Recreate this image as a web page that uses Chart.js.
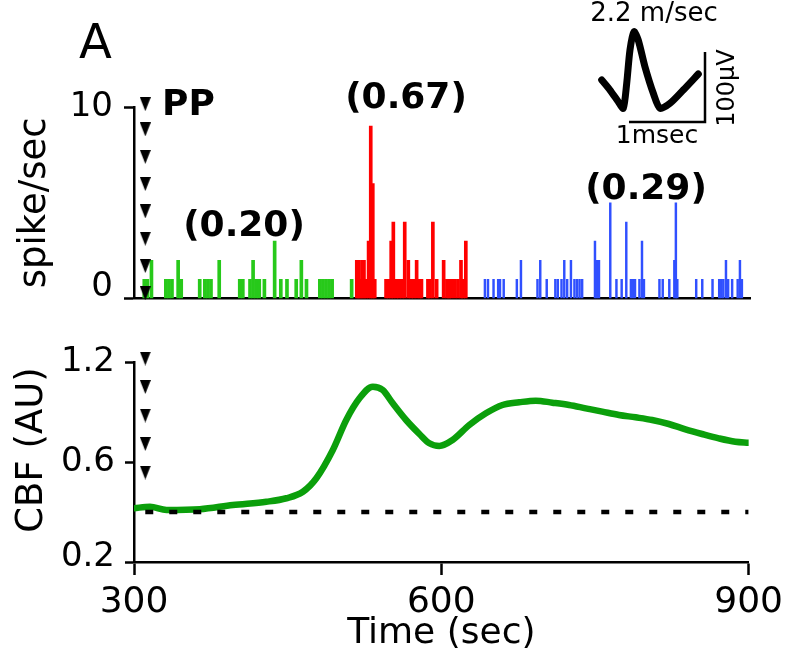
<!DOCTYPE html>
<html><head><meta charset="utf-8">
<script src="https://cdn.jsdelivr.net/npm/chart.js@4.4.1/dist/chart.umd.min.js"></script>
<style>
html,body{margin:0;padding:0;background:#fff;}
#wrap{position:relative;width:789px;height:657px;overflow:hidden;background:#fff;}
canvas{position:absolute;}
</style></head><body>
<div id="wrap">
<canvas id="cbf" width="789" height="345" style="left:0;top:312px"></canvas>
<canvas id="spk" width="789" height="330" style="left:0;top:0"></canvas>
<canvas id="ins" width="180" height="150" style="left:570px;top:0"></canvas>
</div>
<script>
// ---------------- data ----------------
const timeTicks = [300, 600, 900];
const spikeTicks = [0, 10];
const cbfTicks = [0.2, 0.6, 1.2];

const greenTimes = [310, 313, 317, 331, 334, 337, 343, 346, 364, 369, 372, 375, 383, 403, 406, 413, 416, 419, 422, 427, 437, 443, 449, 458, 463, 468, 481, 484, 487, 490, 493, 512];
const greenRates = [1, 1, 2, 1, 1, 1, 2, 1, 1, 1, 1, 1, 2, 1, 1, 1, 2, 1, 1, 1, 3, 1, 1, 1, 2, 1, 1, 1, 1, 1, 1, 1];

const redTimes = [517, 518.5, 520.3, 522, 524, 526, 528.5, 530.6, 532.6, 534.5, 545.5, 548, 550.5, 552.6, 555.5, 558, 560.8, 563.7, 567.2, 570, 572.3, 575.3, 578.3, 580, 586.3, 588, 591.1, 594.8, 601.6, 604.8, 607, 609, 612.3, 615.5, 618.5, 620.5, 623.2];
const redRates = [2, 2, 1, 2, 2, 1, 3, 9, 6, 1, 1, 1, 3, 4, 1, 1, 1, 4, 2, 1, 1, 2, 1, 1, 1, 1, 4, 1, 2, 1, 1, 1, 1, 1, 2, 1, 3];

const blueTimes = [641.8, 644.8, 650.2, 654.7, 656.5, 660.1, 672.9, 676.9, 693, 695.7, 702, 710.4, 712.8, 716.4, 719.1, 721.9, 725.6, 729, 731.5, 734, 736.5, 749, 750.8, 752.9, 763.9, 769.9, 775, 779.5, 784, 786, 788, 792.3, 794.8, 796.7, 811.8, 815, 821.4, 826.3, 827.8, 829.2, 847.6, 853.5, 863.5, 870, 872, 874, 876.6, 878.7, 882.6, 888, 890.2, 892.1];
const blueRates = [1, 1, 1, 1, 1, 1, 1, 2, 1, 2, 1, 1, 1, 1, 2, 1, 2, 1, 1, 1, 1, 3, 2, 2, 5, 1, 1, 4, 1, 1, 1, 1, 3, 1, 1, 1, 1, 2, 5, 1, 1, 1, 1, 1, 1, 1, 2, 1, 1, 1, 2, 1];

const rateLabels = ['(0.20)', '(0.67)', '(0.29)'];

const cbfTimes = [300, 315.6, 331.8, 364.3, 396.4, 429.2, 448.7, 464.9, 478, 494.1, 507.2, 520.1, 533.1, 542.8, 552.6, 565.6, 578.6, 588.3, 598, 611, 627.3, 643.5, 659.7, 676, 692.2, 708.4, 724.7, 740.9, 757.1, 773.4, 789.6, 805.8, 822.1, 838.3, 854.5, 870.8, 887, 900];
const cbfValues = [0.415, 0.421, 0.408, 0.411, 0.428, 0.441, 0.455, 0.481, 0.535, 0.672, 0.852, 0.982, 1.052, 1.032, 0.952, 0.852, 0.768, 0.712, 0.696, 0.732, 0.822, 0.892, 0.942, 0.958, 0.968, 0.956, 0.942, 0.922, 0.902, 0.882, 0.868, 0.852, 0.828, 0.796, 0.768, 0.742, 0.722, 0.716];

const baselineTimes = [311, 900];
const baselineValues = [0.4, 0.4];

const ppTime = 311;
const ppSpikeLevels = [10.15, 8.83, 7.4, 5.98, 4.55, 3.13, 1.7, 0.28];
const ppCbfLevels = [1.392, 1.221, 1.05, 0.879, 0.708, 0.558];

const waveTimes = [-0.359, -0.25, -0.141, -0.075, -0.03, 0.013, 0.066, 0.122, 0.21, 0.32, 0.408, 0.54, 0.714, 0.912];
const waveVolts = [60, 45.7, 29, 19.6, 55.3, 102.9, 129, 117, 79, 41, 19.6, 26.7, 45.7, 68.6];
const scaleBarTimes = [0, 1, 1];
const scaleBarVolts = [0, 0, 100];

// ---------------- styles ----------------
const FONT = 'DejaVu Sans';
const GREEN = '#27c91a';
const RED = '#ff0000';
const BLUE = '#3050ff';
const CBF_GREEN = '#0b9f0b';

const xy = (xs, ys) => xs.map((x, i) => ({x: x, y: ys[i]}));

// piecewise linear scale: tick values evenly spaced along the axis
class PiecewiseScale extends Chart.LinearScale {
  getPixelForValue(value) {
    if (value === null || value === undefined || isNaN(value)) return NaN;
    const b = cbfTicks, n = b.length - 1;
    let i = 0;
    while (i < n - 1 && value > b[i + 1]) i++;
    const dec = (i + (value - b[i]) / (b[i + 1] - b[i])) / n;
    return this.getPixelForDecimal(dec);
  }
  getValueForPixel(pixel) {
    const b = cbfTicks, n = b.length - 1;
    const d = this.getDecimalForPixel(pixel) * n;
    const i = Math.min(n - 1, Math.max(0, Math.floor(d)));
    return b[i] + (d - i) * (b[i + 1] - b[i]);
  }
}
PiecewiseScale.id = 'piecewise';
PiecewiseScale.defaults = Chart.LinearScale.defaults;
Chart.register(PiecewiseScale);

// downward arrowhead marker
const tri = document.createElement('canvas');
tri.width = 11; tri.height = 14;
(function(){ const c = tri.getContext('2d'); c.fillStyle = '#000'; c.beginPath(); c.moveTo(0, 0); c.lineTo(11, 0); c.lineTo(5.5, 14); c.closePath(); c.fill(); })();

const nudge = (axis, value, dy) => ({
  id: 'nudge_' + axis,
  beforeDraw(chart) {
    try {
      const s = chart.scales[axis];
      const items = s.getLabelItems(chart.chartArea);
      s.ticks.forEach((t, i) => { if (t.value === value && items[i]) items[i].options.translation[1] += dy; });
    } catch (e) {}
  }
});

const tickFont = (size) => ({family: FONT, size: size});

// ---------------- top panel: spike histogram ----------------
const topText = {
  id: 'topText',
  afterDraw(chart) {
    const ctx = chart.ctx, x = chart.scales.x, y = chart.scales.y;
    ctx.save();
    ctx.fillStyle = '#000';
    ctx.textAlign = 'left'; ctx.textBaseline = 'alphabetic';
    ctx.font = '48px "' + FONT + '"';
    ctx.fillText('A', 79, 58);
    ctx.font = 'bold 36px "' + FONT + '"';
    ctx.fillText('PP', 162, 115);
    ctx.textAlign = 'center'; ctx.textBaseline = 'middle';
    ctx.fillText(rateLabels[0], 244, 227);
    ctx.fillText(rateLabels[1], 406, 99);
    ctx.fillText(rateLabels[2], 646, 190);
    ctx.restore();
  }
};

new Chart(document.getElementById('spk'), {
  type: 'bar',
  data: {
    datasets: [
      {type: 'scatter', data: ppSpikeLevels.map(v => ({x: ppTime, y: v})), pointStyle: tri, pointRadius: 6, clip: false, order: 0},
      {data: xy(greenTimes, greenRates), backgroundColor: GREEN, barThickness: 3, stack: 's', order: 1},
      {data: xy(redTimes, redRates), backgroundColor: RED, barThickness: 3, stack: 's', order: 1},
      {data: xy(blueTimes, blueRates), backgroundColor: BLUE, barThickness: 1.8, stack: 's', order: 1}
    ]
  },
  options: {
    responsive: false, animation: false, devicePixelRatio: 1,
    layout: {padding: {left: 0, right: 39, top: 107, bottom: 0}},
    plugins: {legend: {display: false}, tooltip: {enabled: false}},
    scales: {
      x: {type: 'linear', min: 300, max: 900, offset: false,
          grid: {display: false, offset: false}, ticks: {display: false},
          border: {display: true, color: '#000', width: 2.5},
          afterFit(s) { s.height = 23; }},
      y: {type: 'linear', min: 0, max: 10, stacked: false,
          afterBuildTicks(s) { s.ticks = spikeTicks.map(v => ({value: v})); },
          grid: {display: true, drawOnChartArea: false, tickLength: 10, tickWidth: 2.5, tickColor: '#000'},
          border: {display: true, color: '#000', width: 2.5},
          ticks: {font: tickFont(34), color: '#000', padding: 11, callback: v => String(v)},
          title: {display: true, text: 'spike/sec', color: '#000', font: {family: FONT, size: 37}, padding: {top: 13, bottom: 0}},
          afterFit(s) { s.width = 134; }}
    }
  },
  plugins: [topText, nudge('y', 0, -11)]
});

// ---------------- bottom panel: CBF ----------------
const cbfTitle = {
  id: 'cbfTitle',
  afterDraw(chart) {
    const ctx = chart.ctx;
    ctx.save();
    ctx.fillStyle = '#000';
    ctx.font = '37px "' + FONT + '"';
    ctx.textAlign = 'center'; ctx.textBaseline = 'middle';
    ctx.translate(32, 450 - 312);
    ctx.rotate(-Math.PI / 2);
    ctx.fillText('CBF (AU)', 0, 0);
    ctx.restore();
  }
};

new Chart(document.getElementById('cbf'), {
  type: 'line',
  data: {
    datasets: [
      {type: 'scatter', data: ppCbfLevels.map(v => ({x: ppTime, y: v})), pointStyle: tri, pointRadius: 6, clip: false, order: 0},
      {data: xy(baselineTimes, baselineValues), borderColor: '#000', borderWidth: 4.5, borderDash: [8, 16], borderCapStyle: 'butt', pointRadius: 0, order: 1},
      {data: xy(cbfTimes, cbfValues), borderColor: CBF_GREEN, borderWidth: 6.5, pointRadius: 0, cubicInterpolationMode: 'monotone', borderJoinStyle: 'round', borderCapStyle: 'round', order: 2}
    ]
  },
  options: {
    responsive: false, animation: false, devicePixelRatio: 1,
    layout: {padding: {left: 0, right: 39, top: 50, bottom: 0}},
    plugins: {legend: {display: false}, tooltip: {enabled: false}},
    scales: {
      x: {type: 'linear', min: 300, max: 900,
          afterBuildTicks(s) { s.ticks = timeTicks.map(v => ({value: v})); },
          grid: {display: true, drawOnChartArea: false, tickLength: 13, tickWidth: 2.5, tickColor: '#000'},
          border: {display: true, color: '#000', width: 2.5},
          ticks: {font: tickFont(36), color: '#000', padding: 6, maxRotation: 0, autoSkip: false, callback: v => String(v)},
          title: {display: true, text: 'Time (sec)', color: '#000', font: {family: FONT, size: 36}, padding: {top: 0, bottom: 1.5}},
          afterFit(s) { s.height = 95; }},
      y: {type: 'piecewise', min: 0.2, max: 1.2,
          afterBuildTicks(s) { s.ticks = cbfTicks.map(v => ({value: v})); },
          grid: {display: true, drawOnChartArea: false, tickLength: 9, tickWidth: 2.5, tickColor: '#000'},
          border: {display: true, color: '#000', width: 2.5},
          ticks: {font: tickFont(34), color: '#000', padding: 10, callback: v => Number(v).toFixed(1)},
          afterFit(s) { s.width = 134; }}
    }
  },
  plugins: [cbfTitle, nudge('y', 0.2, -5)]
});

// ---------------- inset: spike waveform ----------------
const insetText = {
  id: 'insetText',
  afterDraw(chart) {
    const ctx = chart.ctx;
    ctx.save();
    ctx.fillStyle = '#000';
    ctx.textAlign = 'center'; ctx.textBaseline = 'middle';
    ctx.font = '26px "' + FONT + '"';
    ctx.fillText('2.2 m/sec', 84, 14);
    ctx.font = '25px "' + FONT + '"';
    ctx.fillText('1msec', 87, 136);
    ctx.translate(158, 88);
    ctx.rotate(-Math.PI / 2);
    ctx.font = '24px "' + FONT + '"';
    ctx.fillText('100\u03bcV', 0, 0);
    ctx.restore();
  }
};

new Chart(document.getElementById('ins'), {
  type: 'line',
  data: {
    datasets: [
      {data: xy(waveTimes, waveVolts), borderColor: '#000', borderWidth: 7, pointRadius: 0, tension: 0.25, borderJoinStyle: 'round', borderCapStyle: 'round'},
      {data: xy(scaleBarTimes, scaleBarVolts), borderColor: '#000', borderWidth: 2.5, pointRadius: 0, tension: 0, borderJoinStyle: 'miter'}
    ]
  },
  options: {
    responsive: false, animation: false, devicePixelRatio: 1,
    layout: {padding: 0},
    plugins: {legend: {display: false}, tooltip: {enabled: false}},
    scales: {
      x: {type: 'linear', display: false, min: -0.776, max: 1.592},
      y: {type: 'linear', display: false, min: -40, max: 174.3}
    }
  },
  plugins: [insetText]
});
</script>
</body></html>
